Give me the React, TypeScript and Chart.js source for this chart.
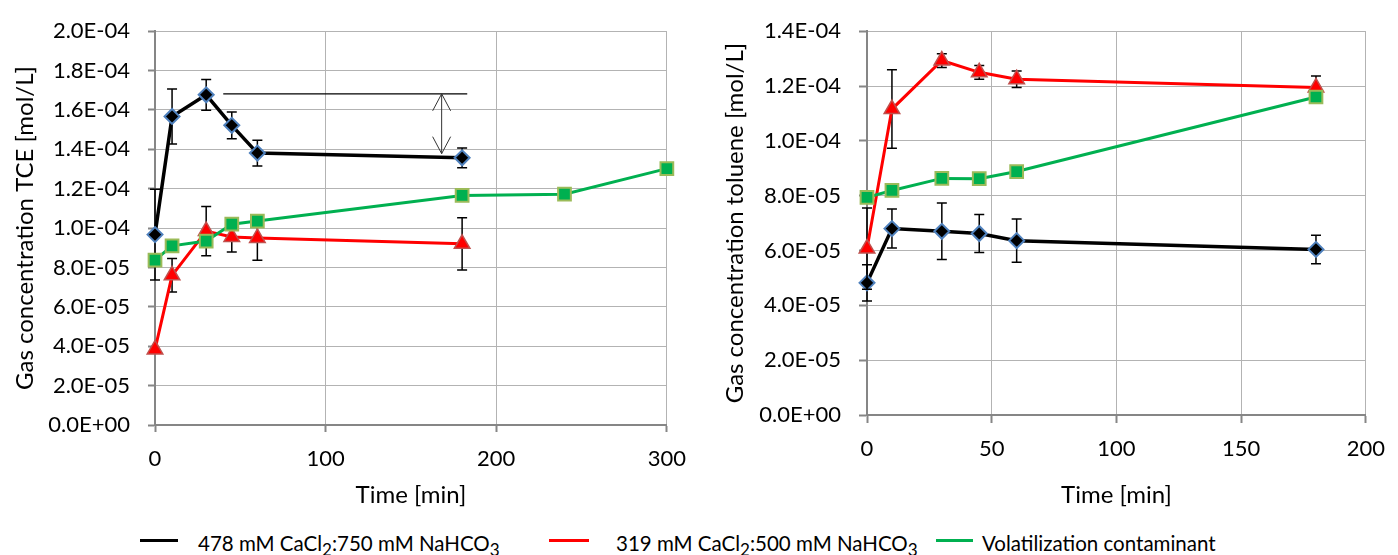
import React, { useEffect, useRef } from 'react';
import { Chart, registerables } from 'chart.js';

Chart.register(...registerables);

// ---------- Data: TCE (left chart) ----------
const TCE_BLACK_T = [0, 10, 30, 45, 60, 180];
const TCE_BLACK_Y = [9.67e-5, 1.567e-4, 1.677e-4, 1.522e-4, 1.381e-4, 1.357e-4];
const TCE_BLACK_ERR = [2.3e-5, 1.4e-5, 0.78e-5, 0.68e-5, 0.65e-5, 0.5e-5];

const TCE_RED_T = [0, 10, 30, 45, 60, 180];
const TCE_RED_Y = [3.84e-5, 7.6e-5, 9.85e-5, 9.55e-5, 9.5e-5, 9.2e-5];
const TCE_RED_ERR = [0, 0.85e-5, 1.25e-5, 0.76e-5, 1.13e-5, 1.33e-5];

const TCE_GREEN_T = [0, 10, 30, 45, 60, 180, 240, 300];
const TCE_GREEN_Y = [8.37e-5, 9.1e-5, 9.34e-5, 1.02e-4, 1.036e-4, 1.166e-4, 1.172e-4, 1.302e-4];

// annotation on the TCE chart (data coordinates)
const ANNOT_X_START = 40;
const ANNOT_X_END = 183;
const ANNOT_LEVEL = 1.682e-4;
const ARROW_X = 168;
const ARROW_BOTTOM = 1.378e-4;

// ---------- Data: toluene (right chart) ----------
const TOL_BLACK_T = [0, 10, 30, 45, 60, 180];
const TOL_BLACK_Y = [4.82e-5, 6.8e-5, 6.7e-5, 6.62e-5, 6.36e-5, 6.04e-5];
const TOL_BLACK_ERR = [0.66e-5, 0.71e-5, 1.03e-5, 0.69e-5, 0.79e-5, 0.52e-5];

const TOL_RED_T = [0, 10, 30, 45, 60, 180];
const TOL_RED_Y = [6.07e-5, 1.116e-4, 1.293e-4, 1.25e-4, 1.225e-4, 1.195e-4];
const TOL_RED_ERR = [1.48e-5, 1.43e-5, 0.25e-5, 0.25e-5, 0.3e-5, 0.42e-5];

const TOL_GREEN_T = [0, 10, 30, 45, 60, 180];
const TOL_GREEN_Y = [7.94e-5, 8.19e-5, 8.63e-5, 8.62e-5, 8.88e-5, 1.16e-4];

// ---------- Labels ----------
const SERIES_BLACK = '478 mM CaCl₂:750 mM NaHCO₃';
const SERIES_RED = '319 mM CaCl₂:500 mM NaHCO₃';
const SERIES_GREEN = 'Volatilization contaminant';
const X_TITLE = 'Time [min]';
const Y_TITLE_TCE = 'Gas concentration TCE [mol/L]';
const Y_TITLE_TOL = 'Gas concentration toluene [mol/L]';

const TCE_Y_TICKS = [0, 2e-5, 4e-5, 6e-5, 8e-5, 1e-4, 1.2e-4, 1.4e-4, 1.6e-4, 1.8e-4, 2e-4];
const TOL_Y_TICKS = [0, 2e-5, 4e-5, 6e-5, 8e-5, 1e-4, 1.2e-4, 1.4e-4];

const TICK_FONT = 'Lato, sans-serif';
const TITLE_FONT = 'Lato, sans-serif';

function sci(v: number): string {
  if (Math.abs(v) < 1e-12) return '0.0E+00';
  let e = Math.floor(Math.log10(Math.abs(v)) + 1e-9);
  let m = v / Math.pow(10, e);
  if (Math.abs(m) >= 9.95) { m /= 10; e += 1; }
  return m.toFixed(1) + 'E' + (e < 0 ? '-' : '+') + String(Math.abs(e)).padStart(2, '0');
}

function pts(t: number[], y: number[]) {
  return t.map((x, i) => ({ x, y: y[i] }));
}

const errorBarPlugin = {
  id: 'errorBars',
  beforeDatasetDraw(chart: any, args: any) {
    const ds = chart.data.datasets[args.index];
    const errs: number[] | undefined = ds.errorBars;
    if (!errs) return;
    const xs = chart.scales.x, ys = chart.scales.y, ctx = chart.ctx;
    ctx.save();
    ctx.strokeStyle = '#000';
    ctx.lineWidth = 1.5;
    ds.data.forEach((p: any, i: number) => {
      const e = errs[i];
      if (!e) return;
      const px = xs.getPixelForValue(p.x);
      const y1 = ys.getPixelForValue(p.y + e);
      const y2 = ys.getPixelForValue(p.y - e);
      ctx.beginPath();
      ctx.moveTo(px, y1); ctx.lineTo(px, y2);
      ctx.moveTo(px - 5, y1); ctx.lineTo(px + 5, y1);
      ctx.moveTo(px - 5, y2); ctx.lineTo(px + 5, y2);
      ctx.stroke();
    });
    ctx.restore();
  },
};

const arrowPlugin = {
  id: 'diffArrow',
  afterDatasetsDraw(chart: any) {
    const xs = chart.scales.x, ys = chart.scales.y, ctx = chart.ctx;
    const yl = ys.getPixelForValue(ANNOT_LEVEL);
    const yb = ys.getPixelForValue(ARROW_BOTTOM);
    const ax = xs.getPixelForValue(ARROW_X);
    ctx.save();
    ctx.strokeStyle = '#000';
    ctx.lineWidth = 1.3;
    ctx.beginPath();
    ctx.moveTo(xs.getPixelForValue(ANNOT_X_START), yl);
    ctx.lineTo(xs.getPixelForValue(ANNOT_X_END), yl);
    ctx.stroke();
    ctx.strokeStyle = '#333';
    ctx.lineWidth = 1;
    ctx.beginPath();
    ctx.moveTo(ax, yl); ctx.lineTo(ax, yb);
    ctx.moveTo(ax - 9, yl + 17); ctx.lineTo(ax, yl); ctx.lineTo(ax + 9, yl + 17);
    ctx.moveTo(ax - 9, yb - 17); ctx.lineTo(ax, yb); ctx.lineTo(ax + 9, yb - 17);
    ctx.stroke();
    ctx.restore();
  },
};

function datasets(bt: number[], by: number[], be: number[], rt: number[], ry: number[], re: number[], gt: number[], gy: number[]) {
  return [
    {
      label: SERIES_BLACK,
      data: pts(bt, by),
      errorBars: be,
      borderColor: '#000000',
      borderWidth: 3.5,
      pointStyle: 'rectRot',
      pointRadius: 7.5,
      pointBackgroundColor: '#000000',
      pointBorderColor: '#4f81bd',
      pointBorderWidth: 2,
      order: 3,
      clip: false,
    },
    {
      label: SERIES_RED,
      data: pts(rt, ry),
      errorBars: re,
      borderColor: '#ff0000',
      borderWidth: 3,
      pointStyle: 'triangle',
      pointRadius: 9,
      pointBackgroundColor: '#ff0000',
      pointBorderColor: '#c0504d',
      pointBorderWidth: 1.5,
      order: 2,
      clip: false,
    },
    {
      label: SERIES_GREEN,
      data: pts(gt, gy),
      borderColor: '#00b050',
      borderWidth: 3,
      pointStyle: 'rect',
      pointRadius: 9,
      pointBackgroundColor: '#00b050',
      pointBorderColor: '#9bbb59',
      pointBorderWidth: 2,
      order: 1,
      clip: false,
    },
  ];
}

function makeConfig(opts: any) {
  const gridCommon = {
    color: '#b3b3b3',
    lineWidth: 1,
    borderDash: [2, 2],
    drawTicks: true,
    tickLength: opts.tickLength,
    tickColor: '#868686',
    tickWidth: 2,
    tickBorderDash: [],
  };
  return {
    type: 'line',
    data: { datasets: opts.datasets },
    plugins: opts.plugins,
    options: {
      responsive: false,
      animation: false,
      devicePixelRatio: 1,
      layout: { padding: { left: 0, right: opts.padRight, top: 20, bottom: 0 } },
      plugins: { legend: { display: false }, tooltip: { enabled: false } },
      scales: {
        x: {
          type: 'linear',
          min: 0,
          max: opts.xMax,
          afterFit: (s: any) => { s.height = opts.xHeight; },
          ticks: { stepSize: opts.xStep, padding: opts.xTickPad, color: '#000', font: { family: TICK_FONT, size: 22 }, maxRotation: 0 },
          grid: gridCommon,
          border: { color: '#868686', width: 2 },
          title: { display: true, text: X_TITLE, color: '#000', font: { family: TITLE_FONT, size: 24 }, padding: { top: 0, bottom: opts.xTitlePad } },
        },
        y: {
          type: 'linear',
          min: 0,
          max: opts.yMax,
          afterFit: (s: any) => { s.width = opts.yWidth; },
          afterBuildTicks: (s: any) => {
            s.ticks = opts.yTicks.map((v: number) => ({ value: v }));
          },
          ticks: { padding: 18, color: '#000', font: { family: TICK_FONT, size: 22 }, callback: (v: any) => sci(Number(v)) },
          grid: gridCommon,
          border: { color: '#868686', width: 2 },
          title: { display: true, text: opts.yTitle, color: '#000', font: { family: TITLE_FONT, size: 24 }, padding: { top: opts.yTitlePad, bottom: 0 } },
        },
      },
    },
  };
}

function ChartCanvas({ width, height, left, makeCfg }: any) {
  const ref = useRef<HTMLCanvasElement>(null);
  useEffect(() => {
    const chart = new Chart(ref.current as HTMLCanvasElement, makeCfg() as any);
    return () => chart.destroy();
  }, []);
  return (
    <canvas
      ref={ref}
      width={width}
      height={height}
      style={{ position: 'absolute', left, top: 0, width, height }}
    />
  );
}

function Swatch({ left, width, color }: any) {
  return <div style={{ position: 'absolute', left, top: 539, width, height: 3, background: color }} />;
}

function LegendText({ left, children }: any) {
  return (
    <div style={{ position: 'absolute', left, top: 529, height: 28, lineHeight: '28px', fontFamily: TITLE_FONT, fontSize: 20.5, color: '#000', whiteSpace: 'nowrap' }}>
      {children}
    </div>
  );
}

export default function App() {
  const tceCfg = () => makeConfig({
    datasets: datasets(TCE_BLACK_T, TCE_BLACK_Y, TCE_BLACK_ERR, TCE_RED_T, TCE_RED_Y, TCE_RED_ERR, TCE_GREEN_T, TCE_GREEN_Y),
    plugins: [errorBarPlugin, arrowPlugin],
    xMax: 300, xStep: 100, yMax: 2e-4, yTicks: TCE_Y_TICKS,
    padRight: 30, xHeight: 95, yWidth: 155, tickLength: 7, xTickPad: 14,
    xTitlePad: 10, yTitlePad: 11, yTitle: Y_TITLE_TCE,
  });
  const tolCfg = () => makeConfig({
    datasets: datasets(TOL_BLACK_T, TOL_BLACK_Y, TOL_BLACK_ERR, TOL_RED_T, TOL_RED_Y, TOL_RED_ERR, TOL_GREEN_T, TOL_GREEN_Y),
    plugins: [errorBarPlugin],
    xMax: 200, xStep: 50, yMax: 1.4e-4, yTicks: TOL_Y_TICKS,
    padRight: 23, xHeight: 105, yWidth: 167, tickLength: 8, xTickPad: 13,
    xTitlePad: 10, yTitlePad: 21, yTitle: Y_TITLE_TOL,
  });
  return (
    <div style={{ position: 'absolute', left: 0, top: 0, width: 1398, height: 555, background: '#fff', overflow: 'hidden' }}>
      <ChartCanvas width={700} height={520} left={0} makeCfg={tceCfg} />
      <ChartCanvas width={698} height={520} left={700} makeCfg={tolCfg} />
      <Swatch left={140} width={38} color="#000000" />
      <LegendText left={198}>478 mM CaCl<sub>2</sub>:750 mM NaHCO<sub>3</sub></LegendText>
      <Swatch left={549} width={40} color="#ff0000" />
      <LegendText left={616}>319 mM CaCl<sub>2</sub>:500 mM NaHCO<sub>3</sub></LegendText>
      <Swatch left={936} width={37} color="#00b050" />
      <LegendText left={982}>{SERIES_GREEN}</LegendText>
    </div>
  );
}
